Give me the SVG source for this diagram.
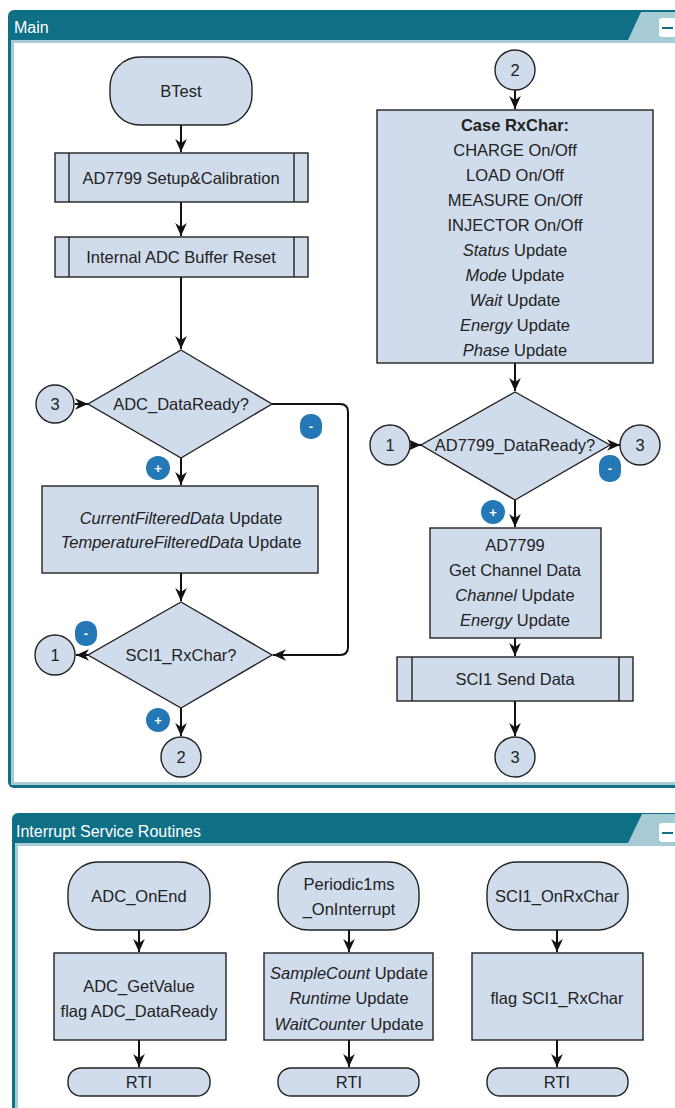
<svg xmlns="http://www.w3.org/2000/svg" width="675" height="1108" viewBox="0 0 675 1108">
<style>
.t{font-family:"Liberation Sans",Arial,sans-serif;font-size:16.5px;fill:#222;text-anchor:middle}
.i{font-style:italic}
.b{font-weight:bold}
.n{fill:#d0dcec;stroke:#222;stroke-width:1.4}
.e{fill:none;stroke:#111;stroke-width:2;marker-end:url(#ah)}
.ttl{font-family:"Liberation Sans",Arial,sans-serif;font-size:16px;fill:#fff}
.bt{font-family:"Liberation Sans",Arial,sans-serif;font-size:13px;font-weight:bold;fill:#fff;text-anchor:middle}
.bd{fill:#2378b5}
</style>
<defs>
<marker id="ah" markerUnits="userSpaceOnUse" markerWidth="13" markerHeight="13" refX="10" refY="5" orient="auto" viewBox="0 0 10 10">
<path d="M0,0.5 L10,5 L0,9.5 L3,5 z" fill="#111"/>
</marker>
</defs>
<rect width="675" height="1108" fill="#fff"/>
<!-- Main panel -->
<g id="panel-main">
<rect x="8" y="10" width="700" height="778" rx="6" fill="#0e6f85"/>
<rect x="11" y="40" width="700" height="745" fill="#a6cbd4"/>
<rect x="14" y="43" width="700" height="739" fill="#fff"/>
<polygon points="628,40 641,12 700,12 700,40" fill="#a6cbd4"/>
<rect x="659" y="18" width="30" height="19" rx="3" fill="#fff"/>
<line x1="662" y1="28" x2="673" y2="28" stroke="#0e6f85" stroke-width="2"/>
<text class="ttl" x="14" y="33">Main</text>
</g>
<!-- ISR panel -->
<g id="panel-isr">
<rect x="12" y="813" width="700" height="400" rx="6" fill="#0e6f85"/>
<rect x="15" y="843" width="700" height="370" fill="#a6cbd4"/>
<rect x="18" y="846" width="700" height="370" fill="#fff"/>
<polygon points="628,843 642,814 700,814 700,843" fill="#a6cbd4"/>
<rect x="659" y="823" width="30" height="19" rx="3" fill="#fff"/>
<line x1="662" y1="833" x2="673" y2="833" stroke="#0e6f85" stroke-width="2"/>
<text class="ttl" x="16" y="837">Interrupt Service Routines</text>
</g>
<!-- connectors -->
<g id="connectors">
<path class="e" d="M181,125 V152"/>
<path class="e" d="M181,202 V236"/>
<path class="e" d="M181,277 V349"/>
<path class="e" d="M75,404 H88"/>
<path class="e" d="M181,458 V485"/>
<path class="e" d="M272,404 H340 Q348,404 348,412 V647 Q348,655 340,655 H273"/>
<path class="e" d="M181,573 V601"/>
<path class="e" d="M88,655 H76"/>
<path class="e" d="M181,708 V736"/>
<path class="e" d="M515,90 V109"/>
<path class="e" d="M515,363 V391"/>
<path class="e" d="M410,445 H421"/>
<path class="e" d="M610,445 H620"/>
<path class="e" d="M515,500 V527"/>
<path class="e" d="M515,638 V656"/>
<path class="e" d="M515,701 V736"/>
<path class="e" d="M139,930 V952"/>
<path class="e" d="M139,1040 V1067"/>
<path class="e" d="M349,930 V952"/>
<path class="e" d="M349,1040 V1067"/>
<path class="e" d="M557,930 V952"/>
<path class="e" d="M557,1040 V1067"/>
</g>
<!-- badges -->
<g id="badges">
<rect class="bd" x="300" y="414" width="22" height="25" rx="10"/><text class="bt" x="311" y="431">-</text>
<circle class="bd" cx="158" cy="468" r="12"/><text class="bt" x="158" y="473">+</text>
<rect class="bd" x="75" y="621" width="22" height="25" rx="10"/><text class="bt" x="86" y="638">-</text>
<circle class="bd" cx="158" cy="720" r="12"/><text class="bt" x="158" y="725">+</text>
<rect class="bd" x="599" y="455" width="22" height="27" rx="10"/><text class="bt" x="610" y="473">-</text>
<circle class="bd" cx="493" cy="512" r="12"/><text class="bt" x="493" y="517">+</text>
</g>
<!-- Main left nodes -->
<g id="n-btest"><rect class="n" x="110" y="57" width="142" height="68" rx="30"/><text class="t" x="181" y="97">BTest</text></g>
<g id="n-setup"><rect class="n" x="55" y="153" width="253" height="49"/><line x1="69" y1="153" x2="69" y2="202" stroke="#222" stroke-width="1.4"/><line x1="294" y1="153" x2="294" y2="202" stroke="#222" stroke-width="1.4"/><text class="t" x="181" y="184">AD7799 Setup&amp;Calibration</text></g>
<g id="n-reset"><rect class="n" x="55" y="237" width="253" height="40"/><line x1="69" y1="237" x2="69" y2="277" stroke="#222" stroke-width="1.4"/><line x1="294" y1="237" x2="294" y2="277" stroke="#222" stroke-width="1.4"/><text class="t" x="181" y="263">Internal ADC Buffer Reset</text></g>
<g id="n-adcready"><polygon class="n" points="181,350 272,404 181,458 88,404"/><text class="t" x="181" y="410">ADC_DataReady?</text></g>
<g id="n-c3a"><circle class="n" cx="55" cy="404" r="19"/><text class="t" x="55" y="410">3</text></g>
<g id="n-filt"><rect class="n" x="42" y="486" width="276" height="87"/><text class="t" x="181" y="524"><tspan class="i">CurrentFilteredData</tspan> Update</text><text class="t" x="181" y="548"><tspan class="i">TemperatureFilteredData</tspan> Update</text></g>
<g id="n-rxchar"><polygon class="n" points="181,602 272,655 181,708 88,655"/><text class="t" x="181" y="661">SCI1_RxChar?</text></g>
<g id="n-c1a"><circle class="n" cx="55" cy="655" r="20"/><text class="t" x="55" y="661">1</text></g>
<g id="n-c2a"><circle class="n" cx="181" cy="757" r="20"/><text class="t" x="181" y="763">2</text></g>
<!-- Main right nodes -->
<g id="n-c2b"><circle class="n" cx="515" cy="70" r="20"/><text class="t" x="515" y="76">2</text></g>
<g id="n-case"><rect class="n" x="377" y="110" width="276" height="253"/>
<text class="t b" x="515" y="131">Case RxChar:</text>
<text class="t" x="515" y="156">CHARGE On/Off</text>
<text class="t" x="515" y="181">LOAD On/Off</text>
<text class="t" x="515" y="206">MEASURE On/Off</text>
<text class="t" x="515" y="231">INJECTOR On/Off</text>
<text class="t" x="515" y="256"><tspan class="i">Status</tspan> Update</text>
<text class="t" x="515" y="281"><tspan class="i">Mode</tspan> Update</text>
<text class="t" x="515" y="306"><tspan class="i">Wait</tspan> Update</text>
<text class="t" x="515" y="331"><tspan class="i">Energy</tspan> Update</text>
<text class="t" x="515" y="356"><tspan class="i">Phase</tspan> Update</text>
</g>
<g id="n-adready"><polygon class="n" points="515,392 610,445 515,500 421,445"/><text class="t" x="515" y="451">AD7799_DataReady?</text></g>
<g id="n-c1b"><circle class="n" cx="390" cy="445" r="20"/><text class="t" x="390" y="451">1</text></g>
<g id="n-c3b"><circle class="n" cx="640" cy="445" r="20"/><text class="t" x="640" y="451">3</text></g>
<g id="n-ad"><rect class="n" x="430" y="528" width="171" height="110"/>
<text class="t" x="515" y="551">AD7799</text>
<text class="t" x="515" y="576">Get Channel Data</text>
<text class="t" x="515" y="601"><tspan class="i">Channel</tspan> Update</text>
<text class="t" x="515" y="626"><tspan class="i">Energy</tspan> Update</text>
</g>
<g id="n-send"><rect class="n" x="397" y="657" width="236" height="44"/><line x1="412" y1="657" x2="412" y2="701" stroke="#222" stroke-width="1.4"/><line x1="619" y1="657" x2="619" y2="701" stroke="#222" stroke-width="1.4"/><text class="t" x="515" y="685">SCI1 Send Data</text></g>
<g id="n-c3c"><circle class="n" cx="515" cy="757" r="20"/><text class="t" x="515" y="763">3</text></g>
<!-- ISR nodes -->
<g id="n-adcend"><rect class="n" x="68" y="862" width="142" height="68" rx="30"/><text class="t" x="139" y="902">ADC_OnEnd</text></g>
<g id="n-per"><rect class="n" x="278" y="862" width="141" height="68" rx="30"/><text class="t" x="349" y="890">Periodic1ms</text><text class="t" x="349" y="915">_OnInterrupt</text></g>
<g id="n-scirx"><rect class="n" x="487" y="862" width="141" height="68" rx="30"/><text class="t" x="557" y="902">SCI1_OnRxChar</text></g>
<g id="n-getval"><rect class="n" x="54" y="953" width="172" height="87"/><text class="t" x="139" y="992">ADC_GetValue</text><text class="t" x="139" y="1017">flag ADC_DataReady</text></g>
<g id="n-cnt"><rect class="n" x="264" y="953" width="169" height="87"/><text class="t" x="349" y="979"><tspan class="i">SampleCount</tspan> Update</text><text class="t" x="349" y="1004"><tspan class="i">Runtime</tspan> Update</text><text class="t" x="349" y="1030"><tspan class="i">WaitCounter</tspan> Update</text></g>
<g id="n-flag"><rect class="n" x="472" y="953" width="171" height="87"/><text class="t" x="557" y="1004">flag SCI1_RxChar</text></g>
<g id="n-rti1"><rect class="n" x="68" y="1068" width="142" height="28" rx="13"/><text class="t" x="139" y="1088">RTI</text></g>
<g id="n-rti2"><rect class="n" x="278" y="1068" width="141" height="28" rx="13"/><text class="t" x="349" y="1088">RTI</text></g>
<g id="n-rti3"><rect class="n" x="487" y="1068" width="141" height="28" rx="13"/><text class="t" x="557" y="1088">RTI</text></g>
</svg>
